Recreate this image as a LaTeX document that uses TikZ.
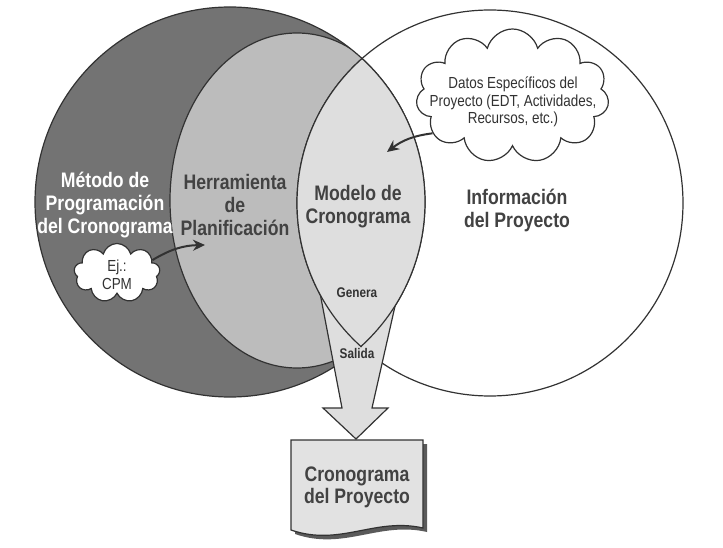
\documentclass[tikz,border=0pt]{standalone}
\usepackage{fontspec}
\newfontfamily\cronofont[FakeStretch=0.84]{Liberation Sans}
\usepackage{xcolor}
\usetikzlibrary{arrows.meta, shapes.symbols, positioning}
\definecolor{CircDark}{RGB}{115,115,115}
\definecolor{CircMid}{RGB}{188,188,188}
\definecolor{CircLight}{RGB}{222,222,222}
\definecolor{DocFill}{RGB}{226,226,226}
\definecolor{LineGray}{RGB}{50,50,50}
\definecolor{TextGray}{RGB}{66,66,66}
\definecolor{ShadowGray}{RGB}{90,90,90}
\tikzset{
  outline/.style={draw=LineGray, line width=1.2pt},
  biglbl/.style={
    font=\cronofont\bfseries\fontsize{21}{23}\selectfont,
    align=center, text=TextGray, inner sep=0pt
  },
  smalllbl/.style={
    font=\cronofont\bfseries\fontsize{14}{16}\selectfont,
    text=LineGray, inner sep=0pt
  },
  puff/.style={
    cloud, cloud ignores aspect, draw=LineGray, line width=1.2pt,
    fill=white, inner sep=0pt
  },
  pufftxt/.style={
    font=\cronofont\fontsize{16}{17.5}\selectfont,
    align=center, text=LineGray, inner sep=0pt
  },
  carr/.style={-{Stealth[length=12pt, width=11pt]}, draw=LineGray, line width=2pt}
}

\begin{document}
\begin{tikzpicture}[x=1pt, y=1pt]
  \useasboundingbox (0,0) rectangle (723,547);

  % circles
  \fill[CircDark] (230,345) circle[radius=195pt];
  \begin{scope}
    \clip (230,345) circle[radius=195pt];
    \fill[CircMid] (297,346.5) ellipse[x radius=127pt, y radius=167.5pt];
    \draw[outline] (297,346.5) ellipse[x radius=127pt, y radius=167.5pt];
  \end{scope}
  \draw[outline] (230,345) circle[radius=195pt];
  \draw[outline] (490,344) circle[radius=193pt];

  % output arrow
  \draw[outline, fill=CircLight] (311.8,297) -- (342,139) -- (323,139)
    -- (356,108) -- (388,139) -- (372,139) -- (407.7,297) -- cycle;

  % lens
  \begin{scope}
    \clip (230,345) circle[radius=195pt];
    \fill[CircLight] (490,344) circle[radius=193pt];
  \end{scope}
  \begin{scope}
    \clip (230,345) circle[radius=195.6pt];
    \draw[outline] (490,344) circle[radius=193pt];
  \end{scope}
  \begin{scope}
    \clip (490,344) circle[radius=193.6pt];
    \draw[outline] (230,345) circle[radius=195pt];
  \end{scope}

  % document
  \begin{scope}[xshift=4pt, yshift=-4pt]
    \fill[ShadowGray] (291,107) -- (423,107) -- (423,19)
      .. controls (375,30) and (340,0) .. (291,17) -- cycle;
  \end{scope}
  \draw[outline, fill=DocFill] (291,107) -- (423,107) -- (423,19)
    .. controls (375,30) and (340,0) .. (291,17) -- cycle;
  \node[biglbl, font=\cronofont\bfseries\fontsize{21}{22}\selectfont]
    (doc) at (357,60) {Cronograma\\del Proyecto};

  % labels
  \node[biglbl, text=white] (metodo) at (105,342) {Método de\\Programación\\del Cronograma};
  \node[biglbl] (herram) at (235,342) {Herramienta\\de\\Planificación};
  \node[biglbl] (modelo) at (358,340) {Modelo de\\Cronograma};
  \node[biglbl] (info) at (517,337) {Información\\del Proyecto};
  \node[smalllbl] (genera) at (357,254) {Genera};
  \node[smalllbl] (salida) at (357,194) {Salida};

  % clouds
  \node[puff, cloud puffs=11, minimum width=193pt, minimum height=134pt]
    (datos) at (512.5,451) {};
  \node[pufftxt] (datostxt) at (513,445)
    {Datos Específicos del\\Proyecto (EDT, Actividades,\\Recursos, etc.)};
  \node[puff, cloud puffs=9, minimum width=86pt, minimum height=59pt]
    (cpm) at (117,274) {};
  \node[pufftxt] (cpmtxt) at (117,272) {Ej.:\\CPM};

  \coordinate (datosend) at (387,395);
  \coordinate (cpmend) at (205,302);
  \draw[carr] (datos.205) to[bend right=15] (datosend);
  \draw[carr] (cpm.20) to[bend left=15] (cpmend);
\end{tikzpicture}
\end{document}
